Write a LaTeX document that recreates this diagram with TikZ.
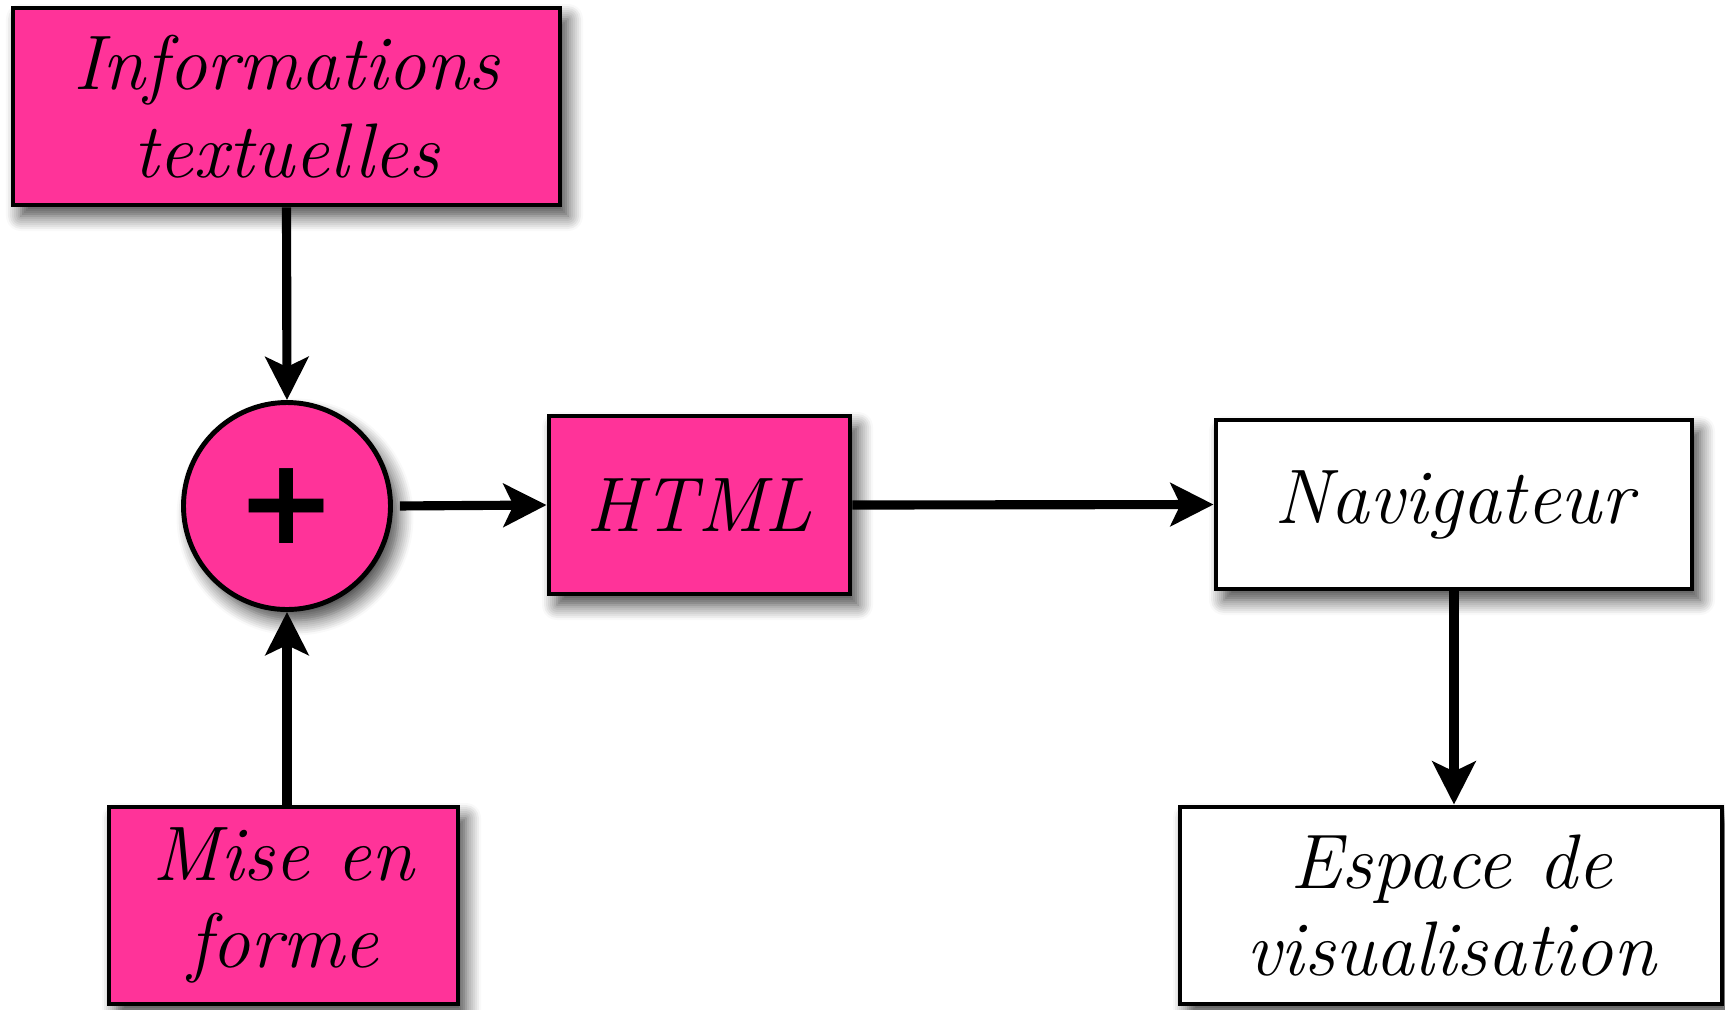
\documentclass[tikz,border=0pt]{standalone}
\usepackage{fontspec}
\usepackage{xcolor}
\usepackage{tikz}
\usetikzlibrary{arrows.meta, shadows.blur}

\definecolor{rose}{RGB}{255,51,153}
\newfontfamily\plusfont{DejaVu Sans}

\begin{document}
\begin{tikzpicture}[
  font=\fontsize{22}{25}\selectfont\itshape,
  >={Stealth[length=0.43cm, width=0.43cm, inset=0.1cm]},
  box/.style={
    rectangle, text centered, align=center,
    inner sep=0pt, line width=1.4pt, draw=black,
    blur shadow={shadow blur steps=8, shadow xshift=0.08cm, shadow yshift=-0.11cm,
                 shadow blur radius=0.15cm, shadow opacity=75}
  },
  pinkbox/.style={box, fill=rose},
  whitebox/.style={box, fill=white},
  sum/.style={
    circle, minimum size=2.07cm, inner sep=0pt, fill=rose, draw=black,
    line width=1.4pt,
    blur shadow={shadow blur steps=8, shadow xshift=0.08cm, shadow yshift=-0.11cm,
                 shadow blur radius=0.15cm, shadow opacity=75},
    font=\fontsize{34}{34}\selectfont\plusfont\bfseries
  },
  arr/.style={->, line width=2.6pt, color=black},
]
\useasboundingbox (0,0) rectangle (17.25,-10.09);
%% Nodes
\node[pinkbox, minimum width=5.47cm, minimum height=1.97cm] (INFO) at (2.865,-1.065)
  {Informations\\textuelles};
\node[sum] (PLUS) at (2.87,-5.06) {+};
\node[pinkbox, minimum width=3.01cm, minimum height=1.78cm] (HTML) at (6.995,-5.05)
  {HTML};
\node[whitebox, minimum width=4.76cm, minimum height=1.69cm] (NAV) at (14.54,-5.045)
  {Navigateur};
\node[pinkbox, minimum width=3.49cm, minimum height=1.97cm] (MISE) at (2.835,-9.055)
  {Mise en\\forme};
\node[whitebox, minimum width=5.42cm, minimum height=1.97cm] (ESP) at (14.51,-9.055)
  {Espace de\\visualisation};
%% Arrows
\draw[arr] (INFO.south) -- (PLUS.north);
\draw[arr] (PLUS.south |- MISE.north) -- (PLUS.south);
\draw[arr, shorten <=0.07cm] (PLUS.east) -- (HTML.west);
\draw[arr] (HTML.east) -- (NAV.west);
\draw[arr] (NAV.south) -- (NAV.south |- ESP.north);
\end{tikzpicture}
\end{document}
